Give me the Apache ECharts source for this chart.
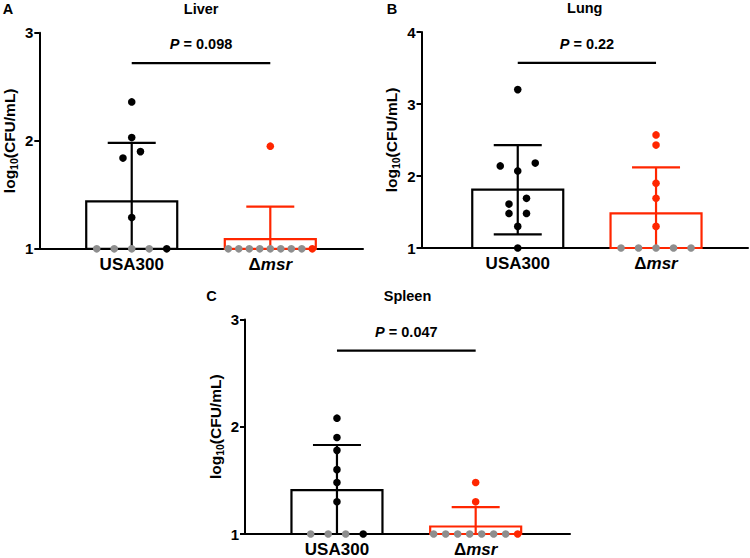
<!DOCTYPE html>
<html>
<head>
<meta charset="utf-8">
<script src="https://cdn.jsdelivr.net/npm/echarts@6/dist/echarts.min.js"></script>
<style>
html,body{margin:0;padding:0;background:#fff;}
#chart{width:750px;height:558px;}
</style>
</head>
<body>
<div id="chart"></div>
<script>
// ---------------- data ----------------
const groups = ['USA300', 'Δmsr'];
const panelNames = ['Liver', 'Lung', 'Spleen'];
const panelLetters = ['A', 'B', 'C'];
const yTickMax = [3, 4, 3];
const yTickMin = 1;

// Liver (log10 CFU/mL); *LOD = points below detection, plotted at the limit
const liverUSA300 = [2.36, 2.03, 1.90, 1.84, 1.29, 1.00];
const liverUSA300LOD = [1, 1, 1, 1];
const liverMsr = [1.95, 1.00];
const liverMsrLOD = [1, 1, 1, 1, 1, 1, 1, 1];
const liverMean = [1.44, 1.09];
const liverSD = [0.54, 0.30];

// Lung
const lungUSA300 = [3.20, 2.18, 2.14, 2.07, 1.69, 1.61, 1.48, 1.48, 1.30, 1.00];
const lungUSA300LOD = [];
const lungMsr = [2.57, 2.43, 1.90, 1.69, 1.30];
const lungMsrLOD = [1, 1, 1, 1, 1];
const lungMean = [1.81, 1.48];
const lungSD = [0.62, 0.64];

// Spleen
const spleenUSA300 = [2.08, 1.90, 1.78, 1.60, 1.48, 1.30, 1.00];
const spleenUSA300LOD = [1, 1, 1];
const spleenMsr = [1.48, 1.30, 1.00];
const spleenMsrLOD = [1, 1, 1, 1, 1, 1, 1];
const spleenMean = [1.41, 1.07];
const spleenSD = [0.42, 0.18];

// significance annotations
const pValues = ['0.098', '0.22', '0.047'];
const sigLevel = [2.72, 3.57, 2.71];

// ---------------- assembly ----------------
const panelData = [
  {obs: [liverUSA300, liverMsr], lod: [liverUSA300LOD, liverMsrLOD], mean: liverMean, sd: liverSD},
  {obs: [lungUSA300, lungMsr], lod: [lungUSA300LOD, lungMsrLOD], mean: lungMean, sd: lungSD},
  {obs: [spleenUSA300, spleenMsr], lod: [spleenUSA300LOD, spleenMsrLOD], mean: spleenMean, sd: spleenSD}
];

const FONT = "'Liberation Sans', Arial, Helvetica, sans-serif";
const groupColors = ['#000000', '#ff2600'];
const lodColor = '#8e8e8e';

const layout = [
  {left: 39.3, top: 32.8, width: 323.7, height: 216, xMin: -0.667, xMax: 1.669},
  {left: 421.5, top: 32, width: 326.5, height: 216, xMin: -0.696, xMax: 1.665},
  {left: 245, top: 319.5, width: 325, height: 215.5, xMin: -0.663, xMax: 1.68}
];

// simple swarm layout (pixel offsets from the group centre)
function swarm(values, lodValues, pxPerUnit) {
  const pts = [];
  const row = lodValues.map(v => ({v, kind: 1}))
    .concat(values.filter(v => v <= yTickMin).map(v => ({v, kind: 0})));
  const n = row.length;
  const sp = n > 1 ? Math.min(17.5, 84 / (n - 1)) : 0;
  row.forEach((p, i) => pts.push({v: p.v, off: (i - (n - 1) / 2) * sp, kind: p.kind}));
  const rest = values.filter(v => v > yTickMin).sort((a, b) => a - b);
  const clusters = [];
  let cur = [];
  rest.forEach(v => {
    if (cur.length && (v - cur[cur.length - 1]) * pxPerUnit >= 8.5) { clusters.push(cur); cur = []; }
    cur.push(v);
  });
  if (cur.length) clusters.push(cur);
  clusters.forEach(c => {
    if (c.length % 2 === 0) {
      c.forEach((v, i) => pts.push({v, off: (i - (c.length - 1) / 2) * 17.5, kind: 0}));
    } else {
      c.forEach((v, i) => {
        const k = Math.ceil(i / 2);
        const sign = i % 2 === 1 ? -1 : 1;
        pts.push({v, off: sign * k * 17.5, kind: 0});
      });
    }
  });
  return pts;
}

function xLabel(name) {
  const m = /^Δ(.+)$/.exec(name);
  return m ? '{n|Δ}{i|' + m[1] + '}' : '{n|' + name + '}';
}

const grids = [], xAxes = [], yAxes = [], series = [], graphics = [];

layout.forEach((L, p) => {
  grids.push({left: L.left, top: L.top, width: L.width, height: L.height, containLabel: false});
  xAxes.push({
    type: 'value', gridIndex: p, min: L.xMin, max: L.xMax,
    axisLine: {show: true, onZero: false, lineStyle: {color: '#000', width: 2}},
    axisTick: {show: false},
    splitLine: {show: false},
    axisLabel: {
      show: true, customValues: [0, 1], margin: 7,
      formatter: v => xLabel(groups[Math.round(v)]),
      rich: {
        n: {fontFamily: FONT, fontWeight: 'bold', fontSize: 17, color: '#000'},
        i: {fontFamily: FONT, fontWeight: 'bold', fontStyle: 'italic', fontSize: 17, color: '#000'}
      }
    }
  });
  yAxes.push({
    type: 'value', gridIndex: p, min: yTickMin, max: yTickMax[p], interval: 1,
    axisLine: {show: true, onZero: false, lineStyle: {color: '#000', width: 2}},
    axisTick: {show: true, length: 5, lineStyle: {color: '#000', width: 2}},
    splitLine: {show: false},
    axisLabel: {fontFamily: FONT, fontWeight: 'bold', fontSize: 15, color: '#000', margin: 6},
    name: '{n|log}{s|10}{n|(CFU/mL)}',
    nameLocation: 'middle', nameGap: 20, nameRotate: 90,
    nameTextStyle: {
      rich: {
        n: {fontFamily: FONT, fontWeight: 'bold', fontSize: 15.5, color: '#000', lineHeight: 20, verticalAlign: 'middle'},
        s: {fontFamily: FONT, fontWeight: 'bold', fontSize: 10.5, color: '#000', lineHeight: 10, verticalAlign: 'bottom'}
      }
    }
  });

  const D = panelData[p];
  const pxPerUnit = L.height / (yTickMax[p] - yTickMin);

  // bars with SD error bars
  series.push({
    type: 'custom', xAxisIndex: p, yAxisIndex: p, z: 3,
    encode: {x: 0, y: 1},
    data: groups.map((g, i) => [i, D.mean[i], D.sd[i]]),
    renderItem: (params, api) => {
      const gi = api.value(0), m = api.value(1), s = api.value(2);
      const col = groupColors[gi];
      const base = api.coord([gi, yTickMin]);
      const top = api.coord([gi, m]);
      const hi = api.coord([gi, m + s]);
      const lo = api.coord([gi, Math.max(yTickMin, m - s)]);
      const hw = 45.5, cw = 24;
      const children = [
        {type: 'rect', shape: {x: base[0] - hw, y: top[1], width: 2 * hw, height: base[1] - top[1]},
         style: {fill: 'none', stroke: col, lineWidth: 2.2}},
        {type: 'line', shape: {x1: base[0], y1: lo[1], x2: base[0], y2: hi[1]}, style: {stroke: col, lineWidth: 2.2}},
        {type: 'line', shape: {x1: base[0] - cw, y1: hi[1], x2: base[0] + cw, y2: hi[1]}, style: {stroke: col, lineWidth: 2.2}}
      ];
      if (m - s > yTickMin) {
        children.push({type: 'line', shape: {x1: base[0] - cw, y1: lo[1], x2: base[0] + cw, y2: lo[1]}, style: {stroke: col, lineWidth: 2.2}});
      }
      return {type: 'group', children};
    }
  });

  // individual points
  const pts = [];
  groups.forEach((g, gi) => {
    swarm(D.obs[gi], D.lod[gi], pxPerUnit).forEach(pt => pts.push([gi, pt.v, pt.off, pt.kind]));
  });
  series.push({
    type: 'custom', xAxisIndex: p, yAxisIndex: p, z: 5,
    encode: {x: 0, y: 1},
    data: pts,
    renderItem: (params, api) => {
      const gi = api.value(0);
      const c = api.coord([gi, api.value(1)]);
      const col = api.value(3) === 1 ? lodColor : groupColors[gi];
      return {type: 'circle', shape: {cx: c[0] + api.value(2), cy: c[1], r: 3.8}, style: {fill: col}};
    }
  });

  // significance bar
  series.push({
    type: 'custom', xAxisIndex: p, yAxisIndex: p, z: 4,
    encode: {x: 0, y: 1},
    data: [[0, sigLevel[p], 1]],
    renderItem: (params, api) => {
      const lv = api.value(1);
      const a = api.coord([0, lv]);
      const b = api.coord([1, lv]);
      return {type: 'group', children: [
        {type: 'line', shape: {x1: a[0], y1: a[1], x2: b[0], y2: b[1]}, style: {stroke: '#000', lineWidth: 2.2}},
        {type: 'text', x: (a[0] + b[0]) / 2, y: a[1] - 19,
         style: {text: '{i|P} = ' + pValues[p], fontFamily: FONT, fontWeight: 'bold', fontSize: 14.5, fill: '#000',
                 align: 'center', verticalAlign: 'middle',
                 rich: {i: {fontFamily: FONT, fontWeight: 'bold', fontStyle: 'italic', fontSize: 14.5, fill: '#000'}}}}
      ]};
    }
  });

  // panel title
  graphics.push({type: 'text', x: L.left + L.width / 2, y: L.top - 24,
    style: {text: panelNames[p], font: 'bold 14.5px ' + FONT, fill: '#000', textAlign: 'center', textVerticalAlign: 'middle'}});
});

const letterPos = [[8, 8.5], [392, 8.5], [211.5, 296]];
letterPos.forEach((pos, p) => {
  graphics.push({type: 'text', x: pos[0], y: pos[1],
    style: {text: panelLetters[p], font: 'bold 14.5px ' + FONT, fill: '#000', textAlign: 'center', textVerticalAlign: 'middle'}});
});

const chart = echarts.init(document.getElementById('chart'), null, {renderer: 'svg'});
chart.setOption({
  animation: false,
  backgroundColor: '#fff',
  grid: grids,
  xAxis: xAxes,
  yAxis: yAxes,
  series: series,
  graphic: graphics
});
</script>
</body>
</html>
